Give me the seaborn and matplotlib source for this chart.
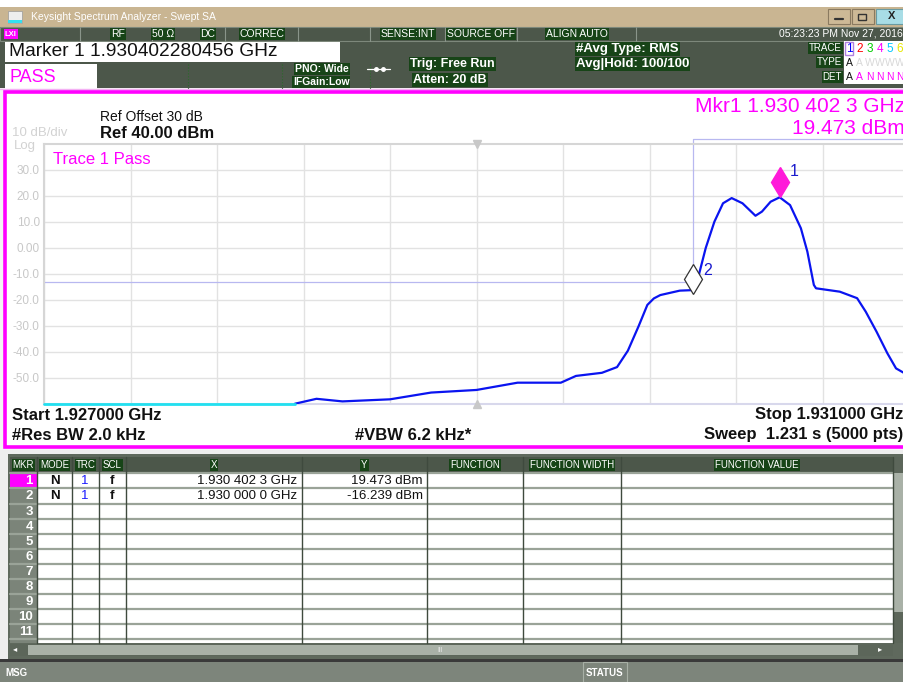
import matplotlib
matplotlib.use("Agg")
import matplotlib.pyplot as plt
import matplotlib.transforms as mtransforms
from matplotlib.patches import Rectangle
import seaborn as sns
import pandas as pd

# ---- values ----
trace_ghz = [1.92816, 1.92826, 1.92838, 1.92860, 1.92879, 1.92900, 1.92919, 1.92939,
             1.92946, 1.92958, 1.92965, 1.92970, 1.92975, 1.92979, 1.92982, 1.92985,
             1.92994, 1.93000, 1.93002, 1.93006, 1.93010, 1.93014, 1.93018, 1.93023,
             1.93029, 1.93032, 1.93036, 1.930402, 1.93045, 1.93050, 1.93053, 1.93056,
             1.93057, 1.93068, 1.93076, 1.93080, 1.93085, 1.93090, 1.93094, 1.93098,
             1.93100]
trace_dbm = [-59.9, -58.0, -59.0, -58.2, -55.6, -54.6, -51.8, -51.8,
             -49.2, -48.0, -45.8, -39.5, -30.0, -21.9, -19.4, -18.1,
             -16.4, -16.2, -13.0, 0.0, 10.1, 17.2, 19.2, 17.2,
             12.4, 14.0, 17.8, 19.5, 16.5, 7.6, -1.4, -14.2,
             -15.5, -16.8, -19.3, -24.5, -32.2, -40.5, -46.3, -48.2,
             -49.0]
floor_ghz = [1.92700, 1.92816]
floor_dbm = [-60.0, -60.0]
limit_ghz = [1.92700, 1.93000, 1.93000, 1.93100]
limit_dbm = [-13.0, -13.0, 42.0, 42.0]

marker_ids = ["1", "2"]
marker_ghz = [1.9304023, 1.9300000]
marker_dbm = [19.473, -16.239]
marker_x_text = ["1.930 402 3 GHz", "1.930 000 0 GHz"]
marker_y_text = ["19.473 dBm", "-16.239 dBm"]

ytick_vals = [30, 20, 10, 0, -10, -20, -30, -40, -50]
ytick_labels = ["30.0", "20.0", "10.0", "0.00", "-10.0", "-20.0", "-30.0", "-40.0", "-50.0"]
xgrid_ghz = [1.9270, 1.9274, 1.9278, 1.9282, 1.9286, 1.9290, 1.9294, 1.9298, 1.9302, 1.9306, 1.9310]

table_cols = ["MKR", "MODE", "TRC", "SCL", "X", "Y", "FUNCTION", "FUNCTION WIDTH", "FUNCTION VALUE"]
trace_nums = ["1", "2", "3", "4", "5", "6"]
trace_cols = ["#0000ff", "#ff0000", "#00cc00", "#ff00ff", "#00c8ff", "#e8e800"]
trace_type = ["A", "A", "W", "W", "W", "W"]
trace_det = ["A", "A", "N", "N", "N", "N"]

sns.set_theme(style="white")
plt.rcParams["font.family"] = ["Liberation Sans", "DejaVu Sans"]

W, H = 904, 682
fig = plt.figure(figsize=(W / 100, H / 100), dpi=100)
bg = fig.add_axes([0, 0, 1, 1])
bg.set_xlim(0, W)
bg.set_ylim(H, 0)
bg.axis("off")

DARK = "#4c574a"
HL = "#174417"


def box(x0, y0, x1, y1, fc, ec="none", lw=0.8, z=1, ls="-"):
    bg.add_patch(Rectangle((x0, y0), x1 - x0, y1 - y0, fc=fc, ec=ec, lw=lw, zorder=z, ls=ls))


def txt(x, y, s, size=8, color="white", ha="left", weight="normal", hl=False, z=5, **kw):
    bb = dict(boxstyle="square,pad=0.08", fc=HL, ec="none") if hl else None
    bg.text(x, y, s, fontsize=size, color=color, ha=ha, va="center",
            fontweight=weight, bbox=bb, zorder=z, **kw)


# window title bar
box(0, 0, W, 7, "white")
box(0, 7, W, 27, "#c9b592")
box(8, 11, 22, 23, "#eeeeee", ec="#999999", lw=0.5, z=2)
box(8, 20, 22, 23, "#33e0f0", z=3)
txt(31, 17, "Keysight Spectrum Analyzer - Swept SA", size=7.5, color="white")
box(828, 9, 850, 24, "#cdb996", ec="#8a7a60", z=2)
bg.plot([835, 843], [19, 19], color="#333333", lw=1.6, zorder=3)
box(852, 9, 874, 24, "#cdb996", ec="#8a7a60", z=2)
box(858, 14, 866, 20, "none", ec="#333333", lw=1, z=3)
box(876, 9, W, 24, "#a8dde6", ec="#6a9aa0", z=2)
txt(888, 16, "X", size=8, color="#222222", weight="bold")

# status rows
box(0, 27, W, 91, DARK)
box(0, 27, W, 41, DARK, ec="#7d887b", lw=0.8)
for sx in [80, 152, 225, 298, 370, 445, 517, 636]:
    bg.plot([sx, sx], [27, 41], color="#8a958a", lw=0.8, zorder=2)
box(4, 29, 18, 39, "#ff00ff", z=2)
txt(5, 34, "LXI", size=5.5, color="white", weight="bold")
for sx, s in [(118, "RF"), (163, "50 Ω"), (208, "DC"), (262, "CORREC"),
              (408, "SENSE:INT"), (481, "SOURCE OFF"), (577, "ALIGN AUTO")]:
    txt(sx, 34, s, size=7.5, ha="center", hl=True)
txt(903, 34, "05:23:23 PM Nov 27, 2016", size=7.5, ha="right")

box(5, 42, 340, 62, "white", z=2)
txt(9, 52, "Marker 1 1.930402280456 GHz", size=13.8, color="#111111")
box(5, 64, 97, 89, "white", z=2)
txt(10, 77, "PASS", size=13, color="#ff00ff")
for sx in [188, 282, 370]:
    bg.plot([sx, sx], [64, 89], color="#2a6a2a", lw=0.8, ls=":", zorder=2)
txt(295, 69, "PNO: Wide", size=7.5, hl=True, weight="bold")
txt(293, 82, "IFGain:Low", size=7.5, hl=True, weight="bold")
bg.plot([367, 390], [69, 69], color="white", lw=0.9, zorder=3)
bg.plot([376, 383], [69, 69], "o", color="white", ms=2.5, zorder=3)
txt(410, 64, "Trig: Free Run", size=9, hl=True, weight="bold")
txt(413, 80, "Atten: 20 dB", size=9, hl=True, weight="bold")
txt(576, 49, "#Avg Type: RMS", size=9.5, hl=True, weight="bold")
txt(576, 64, "Avg|Hold: 100/100", size=9.5, hl=True, weight="bold")
txt(842, 48, "TRACE", size=7, ha="right", hl=True)
txt(842, 62, "TYPE", size=7, ha="right", hl=True)
txt(842, 77, "DET", size=7, ha="right", hl=True)
box(844, 41, W, 84, "white", z=2)
box(845, 42, 853, 55, "none", ec="#b080e0", lw=1, z=3)
for i, (n, c) in enumerate(zip(trace_nums, trace_cols)):
    cx = 849 + i * 10.2
    txt(cx, 49, n, size=8.5, color=c, ha="center")
    txt(cx, 63, trace_type[i], size=7.5, ha="center",
        color="#111111" if i == 0 else "#d8d8d8")
    txt(cx, 77, trace_det[i], size=7.5, ha="center",
        color="#111111" if i == 0 else "#ff00ff")

# plot panel
box(0, 88, W, 458, "#f4f4f4")
bg.plot([0, W], [89, 89], color="#f4b0f4", lw=1, zorder=2)
box(5, 92, W + 3, 447, "white", ec="#ff00ff", lw=2.6, z=2)
txt(100, 117, "Ref Offset 30 dB", size=10, color="#111111")
txt(100, 133, "Ref 40.00 dBm", size=12, color="#111111", weight="bold")
txt(12, 133, "10 dB/div", size=9.5, color="#d2d2d2")
txt(14, 146, "Log", size=9.5, color="#d2d2d2")
txt(905, 107, "Mkr1 1.930 402 3 GHz", size=15, color="#ff00ff", ha="right")
txt(905, 128, "19.473 dBm", size=15, color="#ff00ff", ha="right")
txt(12, 415, "Start 1.927000 GHz", size=12, color="#111111", weight="bold")
txt(12, 435, "#Res BW 2.0 kHz", size=12, color="#111111", weight="bold")
txt(355, 435, "#VBW 6.2 kHz*", size=12, color="#111111", weight="bold")
txt(903, 415, "Stop 1.931000 GHz", size=12, color="#111111", weight="bold", ha="right")
txt(903, 435, "Sweep  1.231 s (5000 pts)", size=12, color="#111111", weight="bold", ha="right")

# trace axes (right edge runs past the screenshot, as in the original)
L, T, R, B = 44, 144, 909, 404
ax = fig.add_axes([L / W, 1 - B / H, (R - L) / W, (B - T) / H])
ax.set_facecolor("white")

ax.plot(limit_ghz, limit_dbm, color="#b8b8f0", lw=0.9, clip_on=False, zorder=2)
df = pd.DataFrame({"ghz": trace_ghz, "dbm": trace_dbm})
sns.lineplot(data=df, x="ghz", y="dbm", ax=ax, color="#0a14f0", lw=1.6,
             sort=False, estimator=None, zorder=4)
ax.plot(floor_ghz, floor_dbm, color="#22e0f0", lw=2, clip_on=False, zorder=4)

ax.set_xlim(1.927, 1.931)
ax.set_ylim(-60, 40)
ax.set_xticks(xgrid_ghz)
ax.set_xticklabels([])
ax.set_yticks(ytick_vals)
ax.set_yticklabels(ytick_labels, fontsize=8.5, color="#c8c8c8")
ax.tick_params(length=0, pad=3)
ax.grid(True, color="#e2e2e2", lw=1)
for sp in ax.spines.values():
    sp.set_color("#d6d6d6")
    sp.set_linewidth(1.5)
ax.spines["bottom"].set_color("#d8d8ec")
ax.set_xlabel("")
ax.set_ylabel("")

ax.plot([1.929], [40], marker="v", color="#c8c8c8", ms=6, clip_on=False, zorder=3)
ax.plot([1.929], [-60], marker="^", color="#c8c8c8", ms=6, clip_on=False, zorder=3)
ax.text(0.01, 0.94, "Trace 1 Pass", transform=ax.transAxes, fontsize=12,
        color="#ff00ff", va="center")

up1 = mtransforms.offset_copy(ax.transData, fig=fig, x=0, y=15, units="dots")
up2 = mtransforms.offset_copy(ax.transData, fig=fig, x=0, y=11, units="dots")
ax.plot(marker_ghz[0], marker_dbm[0], marker="d", ms=15.5, mfc="#ff1ad9",
        mec="#ff1ad9", transform=up1, clip_on=False, zorder=6)
ax.plot(marker_ghz[1], marker_dbm[1], marker="d", ms=15.5, mfc="white",
        mec="#333333", mew=0.9, transform=up2, clip_on=False, zorder=6)
lab1 = mtransforms.offset_copy(ax.transData, fig=fig, x=10, y=26, units="dots")
lab2 = mtransforms.offset_copy(ax.transData, fig=fig, x=11, y=20, units="dots")
ax.text(marker_ghz[0], marker_dbm[0], marker_ids[0], transform=lab1,
        fontsize=11.5, color="#1a1acc", va="center")
ax.text(marker_ghz[1], marker_dbm[1], marker_ids[1], transform=lab2,
        fontsize=11.5, color="#1a1acc", va="center")

# marker table
box(0, 450, W, 661, "#eeeeee")
box(8, 454, W, 659, "#5f695d")
cx = [10, 37, 72, 99, 126, 302, 427, 523, 621, 893]
box(10, 457, 893, 473, DARK, z=2)
for j, name in enumerate(table_cols):
    txt((cx[j] + cx[j + 1]) / 2, 465, name, size=7, ha="center", hl=True, z=4)
    bg.plot([cx[j + 1], cx[j + 1]], [457, 643], color="#3f4a3e", lw=1, zorder=4)
row_h = 15.1
for i in range(12):
    y0 = 473.3 + i * row_h
    y1 = min(y0 + row_h, 643)
    box(10, y0, cx[1], y1, "#ff00ff" if i == 0 else "#7b8479", z=2)
    box(cx[1], y0, 893, y1, "white", z=2)
    bg.plot([10, 893], [y0, y0], color="#9aa398", lw=1.6, zorder=3)
    if i < 11:
        txt(33, (y0 + y1) / 2 + 0.5, str(i + 1), size=9.5, ha="right", weight="bold", z=5)
for i in range(2):
    yc = 473.3 + (i + 0.5) * row_h + 0.5
    txt(55, yc, "N", size=9.5, color="#111111", ha="center", weight="bold")
    txt(85, yc, "1", size=9.5, color="#1a1aff", ha="center")
    txt(112, yc, "f", size=9.5, color="#111111", ha="center", weight="bold")
    txt(297, yc, marker_x_text[i], size=9.5, color="#111111", ha="right")
    txt(423, yc, marker_y_text[i], size=9.5, color="#111111", ha="right")
# scroll bars
box(893, 457, W, 643, "#5c665a", z=2)
box(894, 473, W, 612, "#a9b1a7", z=3)
box(10, 644, 893, 656, "#5c665a", z=2)
box(28, 645, 858, 655, "#a9b1a7", z=3)
txt(15, 650, "◂", size=6, ha="center", z=4)
txt(880, 650, "▸", size=6, ha="center", z=4)
txt(440, 650, "III", size=5, color="#e8e8e8", ha="center", z=4)

# message bar
box(0, 659, W, 662, "#3a3a3a", z=2)
box(0, 662, W, H, "#7d857b", z=2)
box(583, 662, 627, H, "#7d857b", ec="#a8b0a6", lw=0.8, z=3)
txt(5, 673, "MSG", size=7, weight="bold", z=4)
txt(605, 673, "STATUS", size=7, ha="center", weight="bold", z=4)

fig.savefig("out.png", dpi=100)
